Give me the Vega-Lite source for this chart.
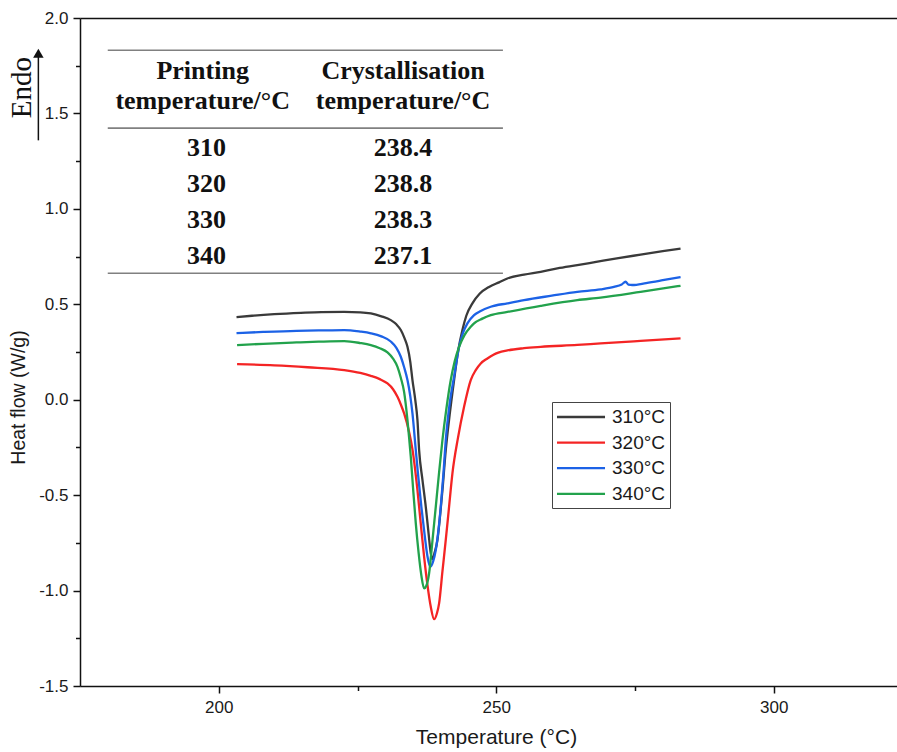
{
  "$schema": "https://vega.github.io/schema/vega-lite/v6.json",
  "width": 817,
  "height": 668,
  "autosize": {"type": "none"},
  "padding": {"left": 80, "top": 18, "right": 0, "bottom": 66},
  "background": "white",
  "config": {
    "view": {"stroke": null},
    "axis": {"labelFont": "Liberation Sans", "titleFont": "Liberation Sans", "labelColor": "#1a1a1a", "titleColor": "#1a1a1a", "domainColor": "#111", "tickColor": "#111", "grid": false, "titleFontWeight": "normal"},
    "legend": {"labelFont": "Liberation Sans"}
  },
  "datasets": {
    "dsc": [
      {"t": 203.2, "h": 0.433, "s": "310°C"}, {"t": 206, "h": 0.44, "s": "310°C"}, {"t": 210, "h": 0.448, "s": "310°C"}, {"t": 214.8, "h": 0.455, "s": "310°C"}, {"t": 218.5, "h": 0.459, "s": "310°C"}, {"t": 222.6, "h": 0.46, "s": "310°C"}, {"t": 225.5, "h": 0.458, "s": "310°C"}, {"t": 227.4, "h": 0.452, "s": "310°C"}, {"t": 229.3, "h": 0.437, "s": "310°C"}, {"t": 231.0, "h": 0.417, "s": "310°C"}, {"t": 232.0, "h": 0.395, "s": "310°C"}, {"t": 232.8, "h": 0.365, "s": "310°C"}, {"t": 233.5, "h": 0.32, "s": "310°C"}, {"t": 234.0, "h": 0.277, "s": "310°C"}, {"t": 234.5, "h": 0.2, "s": "310°C"}, {"t": 234.9, "h": 0.103, "s": "310°C"}, {"t": 235.4, "h": 0.0, "s": "310°C"}, {"t": 235.8, "h": -0.107, "s": "310°C"}, {"t": 236.1, "h": -0.264, "s": "310°C"}, {"t": 236.7, "h": -0.42, "s": "310°C"}, {"t": 237.3, "h": -0.561, "s": "310°C"}, {"t": 237.8, "h": -0.7, "s": "310°C"}, {"t": 238.2, "h": -0.805, "s": "310°C"}, {"t": 238.5, "h": -0.835, "s": "310°C"}, {"t": 238.9, "h": -0.8, "s": "310°C"}, {"t": 239.4, "h": -0.735, "s": "310°C"}, {"t": 239.9, "h": -0.6, "s": "310°C"}, {"t": 240.3, "h": -0.474, "s": "310°C"}, {"t": 240.9, "h": -0.264, "s": "310°C"}, {"t": 241.6, "h": -0.08, "s": "310°C"}, {"t": 242.4, "h": 0.103, "s": "310°C"}, {"t": 243.1, "h": 0.25, "s": "310°C"}, {"t": 243.9, "h": 0.365, "s": "310°C"}, {"t": 244.6, "h": 0.44, "s": "310°C"}, {"t": 245.7, "h": 0.505, "s": "310°C"}, {"t": 247.0, "h": 0.555, "s": "310°C"}, {"t": 248.7, "h": 0.591, "s": "310°C"}, {"t": 250.5, "h": 0.615, "s": "310°C"}, {"t": 252.0, "h": 0.635, "s": "310°C"}, {"t": 255, "h": 0.655, "s": "310°C"}, {"t": 258, "h": 0.67, "s": "310°C"}, {"t": 261, "h": 0.688, "s": "310°C"}, {"t": 264.6, "h": 0.705, "s": "310°C"}, {"t": 268, "h": 0.722, "s": "310°C"}, {"t": 272, "h": 0.742, "s": "310°C"}, {"t": 276, "h": 0.76, "s": "310°C"}, {"t": 280, "h": 0.778, "s": "310°C"}, {"t": 283.2, "h": 0.792, "s": "310°C"},

      {"t": 203.3, "h": 0.186, "s": "320°C"}, {"t": 210, "h": 0.18, "s": "320°C"}, {"t": 216, "h": 0.17, "s": "320°C"}, {"t": 222.6, "h": 0.155, "s": "320°C"}, {"t": 225.5, "h": 0.14, "s": "320°C"}, {"t": 227.4, "h": 0.125, "s": "320°C"}, {"t": 229, "h": 0.108, "s": "320°C"}, {"t": 230.4, "h": 0.085, "s": "320°C"}, {"t": 231.4, "h": 0.055, "s": "320°C"}, {"t": 232.2, "h": 0.015, "s": "320°C"}, {"t": 232.8, "h": -0.025, "s": "320°C"}, {"t": 233.4, "h": -0.072, "s": "320°C"}, {"t": 234.3, "h": -0.17, "s": "320°C"}, {"t": 234.9, "h": -0.26, "s": "320°C"}, {"t": 235.8, "h": -0.474, "s": "320°C"}, {"t": 236.4, "h": -0.65, "s": "320°C"}, {"t": 237.0, "h": -0.823, "s": "320°C"}, {"t": 237.6, "h": -0.97, "s": "320°C"}, {"t": 238.2, "h": -1.085, "s": "320°C"}, {"t": 238.8, "h": -1.15, "s": "320°C"}, {"t": 239.3, "h": -1.12, "s": "320°C"}, {"t": 239.7, "h": -1.067, "s": "320°C"}, {"t": 240.3, "h": -0.9, "s": "320°C"}, {"t": 240.9, "h": -0.735, "s": "320°C"}, {"t": 241.5, "h": -0.56, "s": "320°C"}, {"t": 242.1, "h": -0.386, "s": "320°C"}, {"t": 243.1, "h": -0.2, "s": "320°C"}, {"t": 244.2, "h": -0.037, "s": "320°C"}, {"t": 245.4, "h": 0.103, "s": "320°C"}, {"t": 246.3, "h": 0.155, "s": "320°C"}, {"t": 247.2, "h": 0.19, "s": "320°C"}, {"t": 248.4, "h": 0.216, "s": "320°C"}, {"t": 249.5, "h": 0.236, "s": "320°C"}, {"t": 252.0, "h": 0.258, "s": "320°C"}, {"t": 255, "h": 0.27, "s": "320°C"}, {"t": 258, "h": 0.277, "s": "320°C"}, {"t": 264.6, "h": 0.287, "s": "320°C"}, {"t": 268.8, "h": 0.295, "s": "320°C"}, {"t": 276, "h": 0.308, "s": "320°C"}, {"t": 283.2, "h": 0.321, "s": "320°C"},

      {"t": 203.2, "h": 0.349, "s": "330°C"}, {"t": 208, "h": 0.355, "s": "330°C"}, {"t": 214, "h": 0.361, "s": "330°C"}, {"t": 218, "h": 0.363, "s": "330°C"}, {"t": 222.6, "h": 0.365, "s": "330°C"}, {"t": 225.5, "h": 0.357, "s": "330°C"}, {"t": 227.4, "h": 0.348, "s": "330°C"}, {"t": 229.3, "h": 0.332, "s": "330°C"}, {"t": 231.0, "h": 0.305, "s": "330°C"}, {"t": 232.0, "h": 0.272, "s": "330°C"}, {"t": 232.8, "h": 0.225, "s": "330°C"}, {"t": 233.4, "h": 0.17, "s": "330°C"}, {"t": 234.0, "h": 0.103, "s": "330°C"}, {"t": 234.5, "h": 0.02, "s": "330°C"}, {"t": 234.9, "h": -0.072, "s": "330°C"}, {"t": 235.5, "h": -0.264, "s": "330°C"}, {"t": 235.9, "h": -0.39, "s": "330°C"}, {"t": 236.5, "h": -0.56, "s": "330°C"}, {"t": 237.1, "h": -0.71, "s": "330°C"}, {"t": 237.6, "h": -0.82, "s": "330°C"}, {"t": 238.1, "h": -0.875, "s": "330°C"}, {"t": 238.6, "h": -0.85, "s": "330°C"}, {"t": 239.1, "h": -0.788, "s": "330°C"}, {"t": 239.6, "h": -0.68, "s": "330°C"}, {"t": 240.0, "h": -0.561, "s": "330°C"}, {"t": 240.5, "h": -0.38, "s": "330°C"}, {"t": 240.9, "h": -0.212, "s": "330°C"}, {"t": 241.6, "h": -0.02, "s": "330°C"}, {"t": 242.4, "h": 0.12, "s": "330°C"}, {"t": 243.3, "h": 0.277, "s": "330°C"}, {"t": 244.0, "h": 0.35, "s": "330°C"}, {"t": 244.8, "h": 0.4, "s": "330°C"}, {"t": 246.0, "h": 0.443, "s": "330°C"}, {"t": 247.2, "h": 0.465, "s": "330°C"}, {"t": 249.0, "h": 0.487, "s": "330°C"}, {"t": 252, "h": 0.505, "s": "330°C"}, {"t": 255, "h": 0.522, "s": "330°C"}, {"t": 260, "h": 0.545, "s": "330°C"}, {"t": 264.6, "h": 0.565, "s": "330°C"}, {"t": 268.8, "h": 0.578, "s": "330°C"}, {"t": 271.2, "h": 0.591, "s": "330°C"}, {"t": 272.6, "h": 0.604, "s": "330°C"}, {"t": 273.3, "h": 0.618, "s": "330°C"}, {"t": 273.8, "h": 0.603, "s": "330°C"}, {"t": 274.5, "h": 0.601, "s": "330°C"}, {"t": 277, "h": 0.611, "s": "330°C"}, {"t": 280, "h": 0.626, "s": "330°C"}, {"t": 283.2, "h": 0.643, "s": "330°C"},

      {"t": 203.3, "h": 0.286, "s": "340°C"}, {"t": 208, "h": 0.293, "s": "340°C"}, {"t": 214, "h": 0.3, "s": "340°C"}, {"t": 218, "h": 0.304, "s": "340°C"}, {"t": 222.6, "h": 0.307, "s": "340°C"}, {"t": 225.5, "h": 0.297, "s": "340°C"}, {"t": 227.4, "h": 0.286, "s": "340°C"}, {"t": 229, "h": 0.27, "s": "340°C"}, {"t": 230.4, "h": 0.248, "s": "340°C"}, {"t": 231.4, "h": 0.215, "s": "340°C"}, {"t": 232.2, "h": 0.172, "s": "340°C"}, {"t": 232.8, "h": 0.115, "s": "340°C"}, {"t": 233.4, "h": 0.04, "s": "340°C"}, {"t": 234.0, "h": -0.107, "s": "340°C"}, {"t": 234.3, "h": -0.2, "s": "340°C"}, {"t": 234.6, "h": -0.3, "s": "340°C"}, {"t": 235.0, "h": -0.46, "s": "340°C"}, {"t": 235.5, "h": -0.648, "s": "340°C"}, {"t": 236.0, "h": -0.8, "s": "340°C"}, {"t": 236.5, "h": -0.92, "s": "340°C"}, {"t": 237.0, "h": -0.989, "s": "340°C"}, {"t": 237.4, "h": -0.975, "s": "340°C"}, {"t": 237.9, "h": -0.91, "s": "340°C"}, {"t": 238.5, "h": -0.74, "s": "340°C"}, {"t": 239.1, "h": -0.561, "s": "340°C"}, {"t": 239.7, "h": -0.38, "s": "340°C"}, {"t": 240.3, "h": -0.212, "s": "340°C"}, {"t": 241.0, "h": -0.05, "s": "340°C"}, {"t": 241.8, "h": 0.103, "s": "340°C"}, {"t": 242.5, "h": 0.2, "s": "340°C"}, {"t": 243.3, "h": 0.277, "s": "340°C"}, {"t": 244.3, "h": 0.34, "s": "340°C"}, {"t": 245.4, "h": 0.382, "s": "340°C"}, {"t": 246.0, "h": 0.4, "s": "340°C"}, {"t": 247.5, "h": 0.425, "s": "340°C"}, {"t": 249.0, "h": 0.443, "s": "340°C"}, {"t": 252.0, "h": 0.46, "s": "340°C"}, {"t": 258, "h": 0.492, "s": "340°C"}, {"t": 264.6, "h": 0.522, "s": "340°C"}, {"t": 268.8, "h": 0.535, "s": "340°C"}, {"t": 276, "h": 0.565, "s": "340°C"}, {"t": 283.2, "h": 0.597, "s": "340°C"}
    ],
    "table": [
      {"printing": 310, "cryst": "238.4"},
      {"printing": 320, "cryst": "238.8"},
      {"printing": 330, "cryst": "238.3"},
      {"printing": 340, "cryst": "237.1"}
    ],
    "one": [{}]
  },
  "resolve": {"scale": {"y": "independent"}, "axis": {"x": "independent", "y": "independent"}},
  "layer": [
    {
      "layer": [
        {
          "data": {"name": "dsc"},
          "mark": {"type": "line", "strokeWidth": 2.3, "interpolate": "monotone"},
          "encoding": {
            "x": {"field": "t", "type": "quantitative", "scale": {"domain": [175, 322.2], "nice": false, "zero": false},
              "axis": {"values": [200, 250, 300], "tickSize": 7, "tickWidth": 1.5, "domainWidth": 1.5, "labelFontSize": 17, "labelPadding": 6, "title": "Temperature (°C)", "titleFontSize": 21, "titlePadding": 11, "titleX": 416, "labelFlush": false}},
            "y": {"field": "h", "type": "quantitative", "scale": {"domain": [-1.5, 2.0], "nice": false, "zero": false},
              "axis": {"values": [-1.5, -1.0, -0.5, 0.0, 0.5, 1.0, 1.5, 2.0], "labelExpr": "replace(format(datum.value, '.1f'), '−', '-')", "tickSize": 7, "tickWidth": 1.5, "domainWidth": 1.5, "labelFontSize": 17, "labelPadding": 5, "title": "Heat flow (W/g)", "titleFontSize": 19.5, "titlePadding": 10, "titleY": 379, "labelFlush": false}},
            "color": {"field": "s", "type": "nominal",
              "scale": {"domain": ["310°C", "320°C", "330°C", "340°C"], "range": ["#3a3a3a", "#f42424", "#1c62e6", "#22a24c"]},
              "legend": {"title": null, "orient": "none", "legendX": 472, "legendY": 384, "labelFontSize": 19, "labelColor": "#1a1a1a", "strokeColor": "#444", "padding": 4, "symbolType": "M-2.5,0H2.5", "symbolSize": 369, "symbolStrokeWidth": 2.3, "symbolOffset": 14, "labelOffset": 20, "rowPadding": 4.6}}
          }
        },
        {"data": {"name": "one"}, "mark": {"type": "rule", "stroke": "#808080", "strokeWidth": 1.6}, "encoding": {"x": {"datum": 180}, "x2": {"datum": 251.2}, "y": {"datum": 1.831}}},
        {"data": {"name": "one"}, "mark": {"type": "rule", "stroke": "#808080", "strokeWidth": 1.6}, "encoding": {"x": {"datum": 180}, "x2": {"datum": 251.2}, "y": {"datum": 1.423}}},
        {"data": {"name": "one"}, "mark": {"type": "rule", "stroke": "#808080", "strokeWidth": 1.6}, "encoding": {"x": {"datum": 180}, "x2": {"datum": 251.2}, "y": {"datum": 0.663}}},
        {"data": {"name": "one"}, "mark": {"type": "text", "font": "Liberation Serif", "fontWeight": "bold", "fontSize": 26, "lineHeight": 30, "baseline": "middle", "align": "center", "color": "#111"},
          "encoding": {"x": {"datum": 197.1}, "y": {"datum": 1.721}, "text": {"value": ["Printing", "temperature/°C"]}}},
        {"data": {"name": "one"}, "mark": {"type": "text", "font": "Liberation Serif", "fontWeight": "bold", "fontSize": 26, "lineHeight": 30, "baseline": "middle", "align": "center", "color": "#111"},
          "encoding": {"x": {"datum": 233.2}, "y": {"datum": 1.721}, "text": {"value": ["Crystallisation", "temperature/°C"]}}},
        {"data": {"name": "one"}, "mark": {"type": "text", "font": "Liberation Serif", "fontSize": 29, "baseline": "middle", "align": "center", "angle": 270, "color": "#111"},
          "encoding": {"x": {"datum": 164.6}, "y": {"datum": 1.635}, "text": {"value": "Endo"}}},
        {"data": {"name": "one"}, "mark": {"type": "rule", "stroke": "#111", "strokeWidth": 1.5}, "encoding": {"x": {"datum": 167.5}, "y": {"datum": 1.359}, "y2": {"datum": 1.80}}},
        {"data": {"name": "one"}, "mark": {"type": "point", "shape": "triangle-up", "filled": true, "color": "#111", "size": 110, "opacity": 1}, "encoding": {"x": {"datum": 167.5}, "y": {"datum": 1.815}}}
      ]
    },
    {
      "data": {"name": "table"},
      "layer": [
        {"mark": {"type": "text", "font": "Liberation Serif", "fontWeight": "bold", "fontSize": 26, "baseline": "middle", "align": "center", "color": "#111"},
          "encoding": {"x": {"datum": 197.8, "axis": null}, "text": {"field": "printing", "type": "nominal"}}},
        {"mark": {"type": "text", "font": "Liberation Serif", "fontWeight": "bold", "fontSize": 26, "baseline": "middle", "align": "center", "color": "#111"},
          "encoding": {"x": {"datum": 233.2, "axis": null}, "text": {"field": "cryst", "type": "nominal"}}}
      ],
      "encoding": {
        "y": {"field": "printing", "type": "quantitative", "scale": {"domain": [273.89, 459.45], "reverse": true, "nice": false, "zero": false}, "axis": null}
      }
    },
    {
      "data": {"name": "one"},
      "mark": {"type": "point", "opacity": 0},
      "encoding": {
        "x": {"datum": 200, "scale": {"domain": [175, 322.2], "nice": false, "zero": false}, "axis": {"orient": "bottom", "values": [225, 275], "labels": false, "tickSize": 4.5, "tickWidth": 1.5, "domain": false, "title": null}},
        "y": {"datum": 0, "scale": {"domain": [-1.5, 2.0], "nice": false, "zero": false}, "axis": {"orient": "left", "values": [-1.25, -0.75, -0.25, 0.25, 0.75, 1.25, 1.75], "labels": false, "tickSize": 4.5, "tickWidth": 1.5, "domain": false, "title": null}}
      }
    },
    {
      "data": {"name": "one"},
      "mark": {"type": "point", "opacity": 0},
      "encoding": {
        "x": {"datum": 200, "axis": {"orient": "top", "labels": false, "ticks": false, "domainWidth": 1.5, "title": null}},
        "y": {"datum": 0, "scale": {"domain": [-1.5, 2.0], "nice": false, "zero": false}, "axis": null}
      }
    }
  ]
}
